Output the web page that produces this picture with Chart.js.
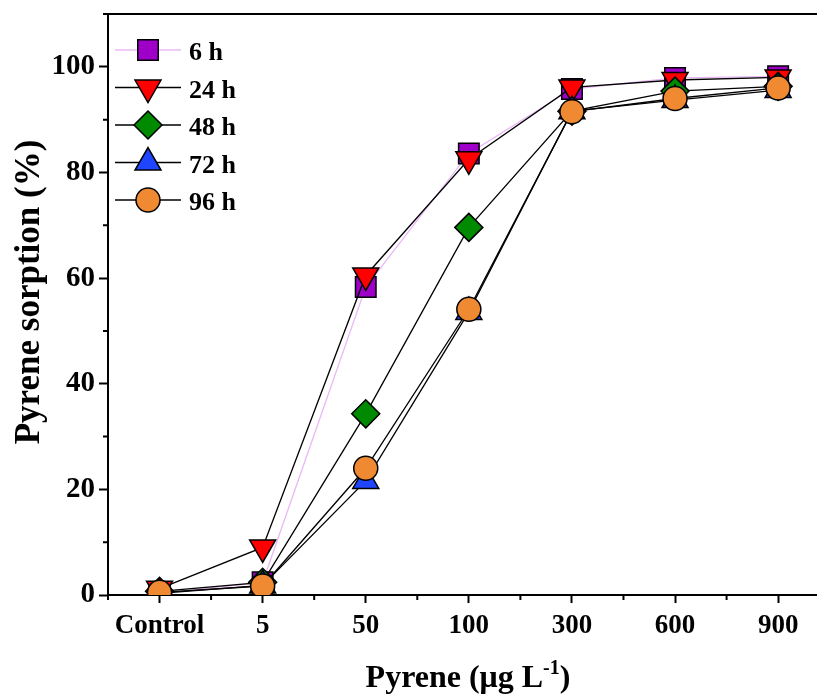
<!DOCTYPE html>
<html><head><meta charset="utf-8">
<script src="https://cdn.jsdelivr.net/npm/chart.js@4"></script>
<style>html,body{margin:0;padding:0;overflow:hidden;background:#fff}canvas{display:block}</style>
</head><body>
<canvas id="c" width="817" height="697"></canvas>
<script>
// ---- data ----
const categories = ['Control', '5', '50', '100', '300', '600', '900'];
const yTickValues = [0, 20, 40, 60, 80, 100];
const yMinorTicks = [10, 30, 50, 70, 90, 110];
const seriesNames = ['6 h', '24 h', '48 h', '72 h', '96 h'];
const s6h  = [0.3, 2.4, 58.3, 83.6, 95.8, 97.9, 98.2];
const s24h = [1.2, 9.0, 60.5, 82.5, 96.1, 97.5, 98.0];
const s48h = [0.7, 2.4, 34.3, 69.6, 91.6, 95.4, 96.3];
const s72h = [0.3, 1.8, 21.6, 53.6, 91.6, 93.7, 95.6];
const s96h = [0.5, 1.7, 24.0, 54.1, 91.5, 94.0, 96.0];
const seriesValues = [s6h, s24h, s48h, s72h, s96h];
const yTitle = 'Pyrene sorption (%)';

// ---- styles ----
const FONT = "'Liberation Serif','Times New Roman',serif";
const styles = [
  { fill: '#9E00C8', line: '#EBB8F7', shape: 'rect', r: 14.5, rot: 0 },
  { fill: '#FF0000', line: '#000000', shape: 'triangle', r: 15, rot: 180 },
  { fill: '#008A00', line: '#000000', shape: 'rectRot', r: 14, rot: 0 },
  { fill: '#1F45FF', line: '#000000', shape: 'triangle', r: 15, rot: 0 },
  { fill: '#F08A32', line: '#000000', shape: 'circle', r: 12, rot: 0 }
];

const datasets = seriesNames.map((name, i) => ({
  label: name,
  data: seriesValues[i].map((v, k) => ({ x: k, y: v })),
  borderColor: styles[i].line,
  borderWidth: 1.3,
  pointStyle: styles[i].shape,
  pointRadius: styles[i].r,
  pointRotation: styles[i].rot,
  pointBackgroundColor: styles[i].fill,
  pointBorderColor: '#000',
  pointBorderWidth: 1.5,
  fill: false,
  tension: 0,
  order: seriesNames.length - i
}));

function drawShape(ctx, st, x, y) {
  const opts = { pointStyle: st.shape, rotation: st.rot, radius: st.r, borderWidth: 1.5 };
  ctx.save();
  ctx.fillStyle = st.fill; ctx.strokeStyle = '#000'; ctx.lineWidth = 1.5;
  if (Chart.helpers && Chart.helpers.drawPoint) {
    Chart.helpers.drawPoint(ctx, opts, x, y);
  } else {
    ctx.beginPath(); ctx.arc(x, y, st.r, 0, Math.PI * 2); ctx.fill(); ctx.stroke();
  }
  ctx.restore();
}

const framePlugin = {
  id: 'frame',
  afterDraw(chart) {
    const ctx = chart.ctx, a = chart.chartArea;
    const xs = chart.scales.x, ys = chart.scales.y;
    ctx.save();
    ctx.strokeStyle = '#000'; ctx.lineWidth = 2;
    // top frame
    ctx.beginPath();
    ctx.moveTo(a.left - 1, a.top); ctx.lineTo(chart.width, a.top);
    ctx.stroke();
    // minor ticks
    ctx.beginPath();
    yMinorTicks.forEach(v => { const p = ys.getPixelForValue(v); ctx.moveTo(a.left - 5, p); ctx.lineTo(a.left, p); });
    for (let i = -1; i < categories.length; i++) {
      const p = xs.getPixelForValue(i + 0.5);
      if (p > chart.width) continue;
      ctx.moveTo(p, a.bottom); ctx.lineTo(p, a.bottom + 5);
    }
    ctx.stroke();
    // legend
    datasets.forEach((d, i) => {
      const y = 50 + i * 37.5;
      ctx.strokeStyle = d.borderColor; ctx.lineWidth = 1.5;
      ctx.beginPath(); ctx.moveTo(115, y); ctx.lineTo(181, y); ctx.stroke();
      drawShape(ctx, styles[i], 148, y);
      ctx.fillStyle = '#000';
      ctx.font = 'bold 26px ' + FONT;
      ctx.textBaseline = 'alphabetic'; ctx.textAlign = 'left';
      ctx.fillText(d.label, 189, y + 10);
    });
    // y axis title
    ctx.save();
    ctx.translate(30, 292); ctx.rotate(-Math.PI / 2);
    ctx.font = 'bold 35px ' + FONT; ctx.fillStyle = '#000';
    ctx.textAlign = 'center'; ctx.textBaseline = 'middle';
    ctx.fillText(yTitle, 0, 0);
    ctx.restore();
    // x axis title with superscript
    const big = 'bold 32px ' + FONT, small = 'bold 20px ' + FONT;
    const p1 = 'Pyrene (\u03BCg L', sup = '-1', p3 = ')';
    ctx.font = big; const w1 = ctx.measureText(p1).width, w3 = ctx.measureText(p3).width;
    ctx.font = small; const w2 = ctx.measureText(sup).width;
    let x = 468 - (w1 + w2 + w3) / 2; const base = 687;
    ctx.fillStyle = '#000'; ctx.textAlign = 'left'; ctx.textBaseline = 'alphabetic';
    ctx.font = big; ctx.fillText(p1, x, base); x += w1;
    ctx.font = small; ctx.fillText(sup, x, base - 13); x += w2;
    ctx.font = big; ctx.fillText(p3, x, base);
    ctx.restore();
  }
};

new Chart(document.getElementById('c'), {
  type: 'line',
  data: { datasets },
  options: {
    responsive: false,
    animation: false,
    devicePixelRatio: 1,
    layout: { autoPadding: false, padding: { top: 14, right: 0, left: 0, bottom: 0 } },
    plugins: { legend: { display: false }, tooltip: { enabled: false } },
    scales: {
      x: {
        type: 'linear', min: -0.5, max: 6.377,
        afterBuildTicks: s => { s.ticks = categories.map((c, k) => ({ value: k })); },
        border: { color: '#000', width: 2 },
        grid: { display: true, drawOnChartArea: false, drawTicks: true, tickLength: 8, tickWidth: 2, tickColor: '#000' },
        ticks: { color: '#000', font: { family: FONT, size: 27, weight: 'bold' }, padding: 7, maxRotation: 0, autoSkip: false,
                 callback: v => categories[v] },
        afterFit: s => { s.height = 102; s.paddingLeft = 0; s.paddingRight = 0; }
      },
      y: {
        type: 'linear', min: 0, max: 110,
        afterBuildTicks: s => { s.ticks = yTickValues.map(v => ({ value: v })); },
        border: { color: '#000', width: 2 },
        grid: { display: true, drawOnChartArea: false, drawTicks: true, tickLength: 9, tickWidth: 2, tickColor: '#000' },
        ticks: { color: '#000', font: { family: FONT, size: 29, weight: 'bold' }, padding: 4 },
        afterFit: s => { s.width = 108; s.paddingTop = 0; s.paddingBottom = 0; }
      }
    }
  },
  plugins: [framePlugin]
});
</script>
</body></html>
